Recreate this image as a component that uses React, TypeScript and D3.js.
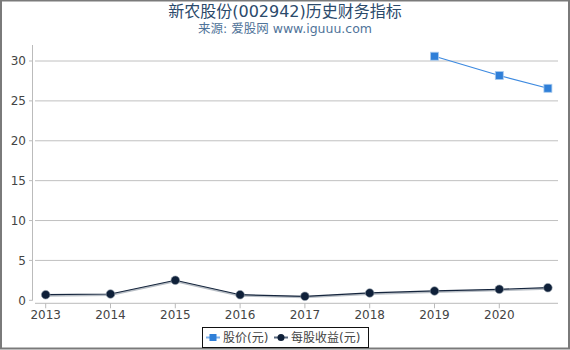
import React from "react";
import * as d3 from "d3";

const years = [2013, 2014, 2015, 2016, 2017, 2018, 2019, 2020];
const epsX = [2013, 2014, 2015, 2016, 2017, 2018, 2019, 2020, 2020.75];
const epsValues = [0.7, 0.79, 2.51, 0.7, 0.5, 0.92, 1.17, 1.38, 1.58];
const priceX = [2019, 2020, 2020.75];
const priceValues = [30.6, 28.18, 26.58];
const yTicks = [0, 5, 10, 15, 20, 25, 30];

const W = 570;
const H = 350;
const FONT = "'DejaVu Sans', 'Noto Sans CJK SC', sans-serif";

export default function App() {
  const x = d3.scaleLinear().domain([2013, 2020]).range([45.7, 499.3]);
  const y = d3.scaleLinear().domain([0, 30]).range([300.3, 61]);

  const left = 35;
  const right = 558;
  const axisY = 303.3;

  const priceLine = d3
    .line<number>()
    .x((_, i) => x(priceX[i]))
    .y((d) => y(d))(priceValues);
  const epsLine = d3
    .line<number>()
    .x((_, i) => x(epsX[i]))
    .y((d) => y(d))(epsValues);

  return (
    <svg
      width={W}
      height={H}
      style={{ position: "absolute", left: 0, top: 0, display: "block", fontFamily: FONT }}
    >
      <rect x={0} y={0} width={W} height={H} fill="#fff" />
      <rect x={1} y={0.5} width={W - 2} height={H - 2} fill="none" stroke="#7a7a7a" strokeWidth={2} />

      {/* title */}
      <text x={285} y={17} textAnchor="middle" fontSize={16} fill="#2b4a6b">
        新农股份(002942)历史财务指标
      </text>
      <text x={285} y={33} textAnchor="middle" fontSize={12.5} fill="#4f7399">
        来源: 爱股网 www.iguuu.com
      </text>

      {/* grid */}
      {yTicks.slice(1).map((t) => (
        <line key={t} x1={left} x2={right} y1={y(t)} y2={y(t)} stroke="#c0c0c0" strokeWidth={1} />
      ))}
      {/* y axis */}
      <line x1={32.5} x2={32.5} y1={45} y2={300.5} stroke="#bbb" strokeWidth={1} />
      {yTicks.map((t) => (
        <g key={t}>
          <line x1={29} x2={32.5} y1={y(t)} y2={y(t)} stroke="#bbb" />
          <text x={26} y={y(t)} dy="0.35em" textAnchor="end" fontSize={12} fill="#444">
            {t}
          </text>
        </g>
      ))}
      {/* x axis */}
      <line x1={left} x2={right} y1={axisY} y2={axisY} stroke="#bbb" strokeWidth={1} />
      {years.map((yr) => (
        <g key={yr}>
          <line x1={x(yr)} x2={x(yr)} y1={axisY} y2={axisY + 5} stroke="#bbb" />
          <text x={x(yr)} y={318.5} textAnchor="middle" fontSize={12} fill="#444">
            {yr}
          </text>
        </g>
      ))}

      {/* price series */}
      <path d={priceLine ?? ""} fill="none" stroke="#3d8ae0" strokeWidth={1.2} />
      {priceValues.map((v, i) => (
        <rect
          key={i}
          x={x(priceX[i]) - 4}
          y={y(v) - 4}
          width={8}
          height={8}
          fill="#2f7fd8"
          stroke="#a9cbef"
          strokeWidth={0.8}
        />
      ))}

      {/* eps series */}
      <path d={epsLine ?? ""} fill="none" stroke="#9aa3ad" strokeWidth={2} transform="translate(0,1)" opacity={0.7} />
      <path d={epsLine ?? ""} fill="none" stroke="#15253d" strokeWidth={1.2} />
      {epsValues.map((v, i) => (
        <circle key={i} cx={x(epsX[i])} cy={y(v)} r={4.3} fill="#0f2039" stroke="#8d98a5" strokeWidth={0.6} />
      ))}

      {/* legend */}
      <rect x={202.5} y={327.5} width={166} height={20} fill="#fff" stroke="#111" strokeWidth={1} />
      <line x1={206} x2={220} y1={337.5} y2={337.5} stroke="#7fb1ea" strokeWidth={2} />
      <rect x={209.5} y={334} width={7} height={7} fill="#2f7fd8" />
      <text x={223} y={337.5} dy="0.35em" fontSize={12} fill="#444">
        股价(元)
      </text>
      <line x1={274} x2={288} y1={337.5} y2={337.5} stroke="#5a6a80" strokeWidth={2} />
      <circle cx={281} cy={337.5} r={3.5} fill="#0f2039" />
      <text x={291} y={337.5} dy="0.35em" fontSize={12} fill="#444">
        每股收益(元)
      </text>
    </svg>
  );
}
